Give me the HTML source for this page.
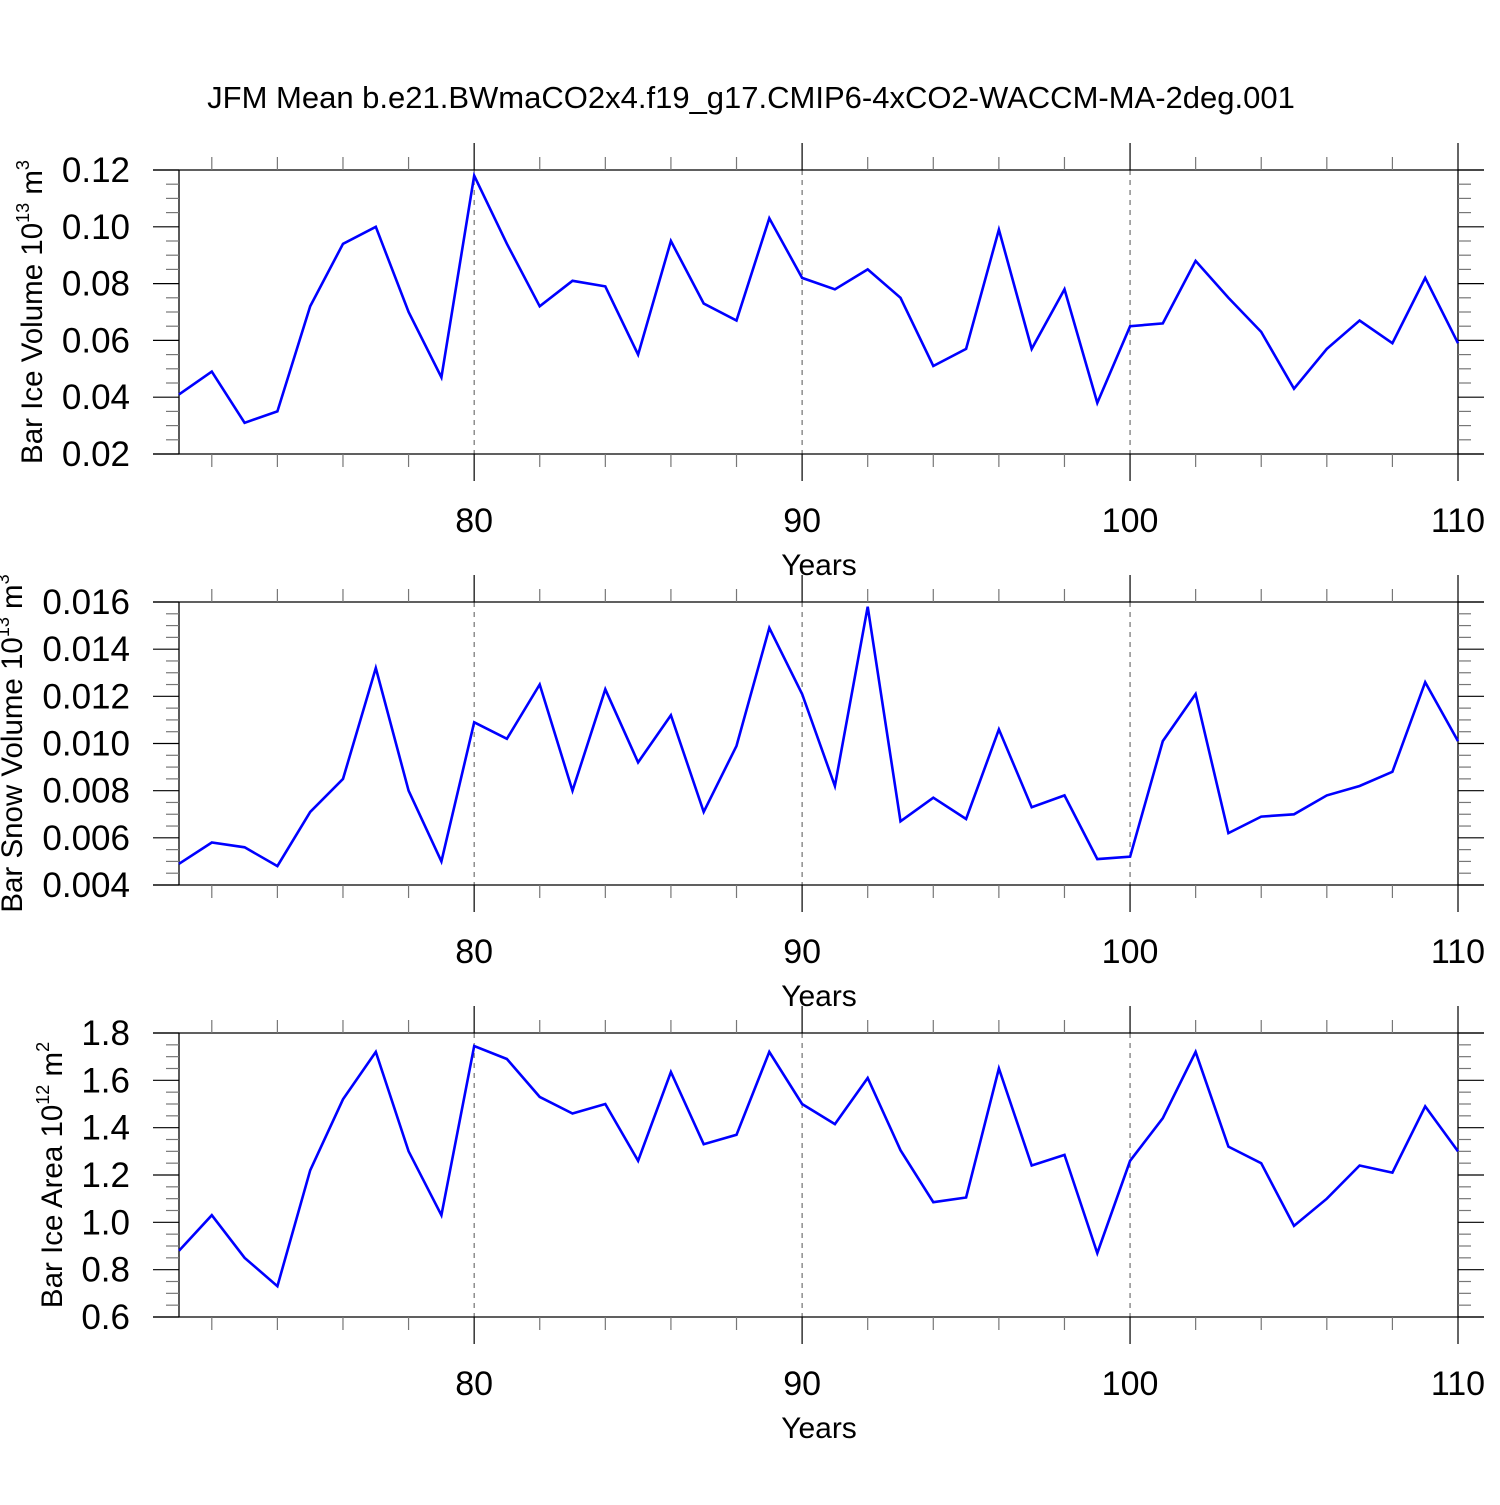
<!DOCTYPE html>
<html><head><meta charset="utf-8"><style>
body{margin:0;background:#fff}
svg text{font-family:"Liberation Sans",sans-serif;fill:#000}
</style></head><body>
<svg id="chart" width="1500" height="1500" viewBox="0 0 1500 1500" xmlns="http://www.w3.org/2000/svg">
<rect width="1500" height="1500" fill="#fff"/>
<text x="751" y="108" font-size="31" text-anchor="middle">JFM Mean b.e21.BWmaCO2x4.f19_g17.CMIP6-4xCO2-WACCM-MA-2deg.001</text>
</svg>
<script>
const years = [];
for (let y = 71; y <= 110; y++) years.push(y);
const iceVolume = [0.041,0.049,0.031,0.035,0.072,0.094,0.100,0.070,0.047,0.118,0.094,0.072,0.081,0.079,0.055,0.095,0.073,0.067,0.103,0.082,0.078,0.085,0.075,0.051,0.057,0.099,0.057,0.078,0.038,0.065,0.066,0.088,0.075,0.063,0.043,0.057,0.067,0.059,0.082,0.059];
const snowVolume = [0.0049,0.0058,0.0056,0.0048,0.0071,0.0085,0.0132,0.0080,0.0050,0.0109,0.0102,0.0125,0.0080,0.0123,0.0092,0.0112,0.0071,0.0099,0.0149,0.0121,0.0082,0.0158,0.0067,0.0077,0.0068,0.0106,0.0073,0.0078,0.0051,0.0052,0.0101,0.0121,0.0062,0.0069,0.0070,0.0078,0.0082,0.0088,0.0126,0.0101];
const iceArea = [0.88,1.03,0.85,0.73,1.22,1.52,1.72,1.30,1.03,1.745,1.69,1.53,1.46,1.50,1.26,1.635,1.33,1.37,1.72,1.50,1.415,1.61,1.305,1.085,1.105,1.65,1.24,1.285,0.87,1.26,1.44,1.72,1.32,1.25,0.985,1.10,1.24,1.21,1.49,1.30];
const xTicks = [80,90,100,110];
const iceVolTicks = ["0.02","0.04","0.06","0.08","0.10","0.12"];
const snowTicks = ["0.004","0.006","0.008","0.010","0.012","0.014","0.016"];
const areaTicks = ["0.6","0.8","1.0","1.2","1.4","1.6","1.8"];

const NS = "http://www.w3.org/2000/svg";
const svg = document.getElementById('chart');
const L = 179, R = 1458, X0 = 71, X1 = 110;
const sx = v => L + (v - X0) / (X1 - X0) * (R - L);
function mk(tag, attrs, parent) { const e = document.createElementNS(NS, tag); for (const k in attrs) e.setAttribute(k, attrs[k]); parent.appendChild(e); return e; }

function panel(name, top, bot, vals, ticks, titleMain, exp, unit, titleX) {
  const g = mk('g', {}, svg);
  
  
  const t0 = parseFloat(ticks[0]), t1 = parseFloat(ticks[ticks.length - 1]);
  const sy = v => bot - (v - t0) / (t1 - t0) * (bot - top);
  const st = { stroke: '#000', 'stroke-width': 1.3 };
  xTicks.slice(0, 3).forEach(x => { const l = mk('line', { x1: sx(x), x2: sx(x), y1: top, y2: bot, stroke: '#555', 'stroke-width': 1, 'stroke-dasharray': '5,5' }, g);   });
  mk('line', Object.assign({ x1: 153, x2: 1484, y1: top, y2: top }, st), g);
  mk('line', Object.assign({ x1: 153, x2: 1484, y1: bot, y2: bot }, st), g);
  mk('line', Object.assign({ x1: L, x2: L, y1: top, y2: bot }, st), g);
  mk('line', Object.assign({ x1: R, x2: R, y1: top, y2: bot }, st), g);
  for (let x = 72; x <= 110; x += 2) {
    const maj = x % 10 === 0, len = maj ? 27 : 13;
    mk('line', { x1: sx(x), x2: sx(x), y1: top - len, y2: top, stroke: maj ? '#000' : '#777', 'stroke-width': 1.2 }, g);
    mk('line', { x1: sx(x), x2: sx(x), y1: bot, y2: bot + len, stroke: maj ? '#000' : '#777', 'stroke-width': 1.2 }, g);
  }
  xTicks.forEach(x => { const t = mk('text', { x: sx(x), y: bot + 78, 'font-size': 34, 'text-anchor': 'middle' }, g); t.textContent = x;   });
  const xt = mk('text', { x: 819, y: bot + 121, 'font-size': 30, 'text-anchor': 'middle' }, g); xt.textContent = 'Years';
  
  
  const step = (t1 - t0) / (ticks.length - 1) / 4;
  for (let i = 0; i <= (ticks.length - 1) * 4; i++) {
    const y = sy(t0 + i * step), maj = i % 4 === 0, len = maj ? 26 : 13;
    mk('line', { x1: L - len, x2: L, y1: y, y2: y, stroke: maj ? '#000' : '#777', 'stroke-width': 1.2 }, g);
    mk('line', { x1: R, x2: R + len, y1: y, y2: y, stroke: maj ? '#000' : '#777', 'stroke-width': 1.2 }, g);
  }
  ticks.forEach(tl => { const t = mk('text', { x: 130, y: sy(parseFloat(tl)) + 12, 'font-size': 35, 'text-anchor': 'end' }, g); t.textContent = tl;   });
  const cy = (top + bot) / 2;
  const yt = mk('text', { x: 0, y: 0, 'font-size': 29.5, 'text-anchor': 'middle', transform: `translate(${titleX},${cy}) rotate(-90)` }, g);
  
  
  yt.innerHTML = `${titleMain} 10<tspan font-size="18" dy="-13">${exp}</tspan><tspan dy="13"> m</tspan><tspan font-size="18" dy="-13">${unit}</tspan>`;
  const pts = vals.map((v, i) => sx(years[i]).toFixed(1) + ',' + sy(v).toFixed(1)).join(' ');
  const pl = mk('polyline', { points: pts, fill: 'none', stroke: '#0000ff', 'stroke-width': 2.6, 'stroke-linejoin': 'miter' }, g);
  
  
}
panel('ice-volume', 170, 454, iceVolume, iceVolTicks, 'Bar Ice Volume', '13', '3', 42);
panel('snow-volume', 602, 885, snowVolume, snowTicks, 'Bar Snow Volume', '13', '3', 22);
panel('ice-area', 1033, 1317, iceArea, areaTicks, 'Bar Ice Area', '12', '2', 62);
</script>
</body></html>
